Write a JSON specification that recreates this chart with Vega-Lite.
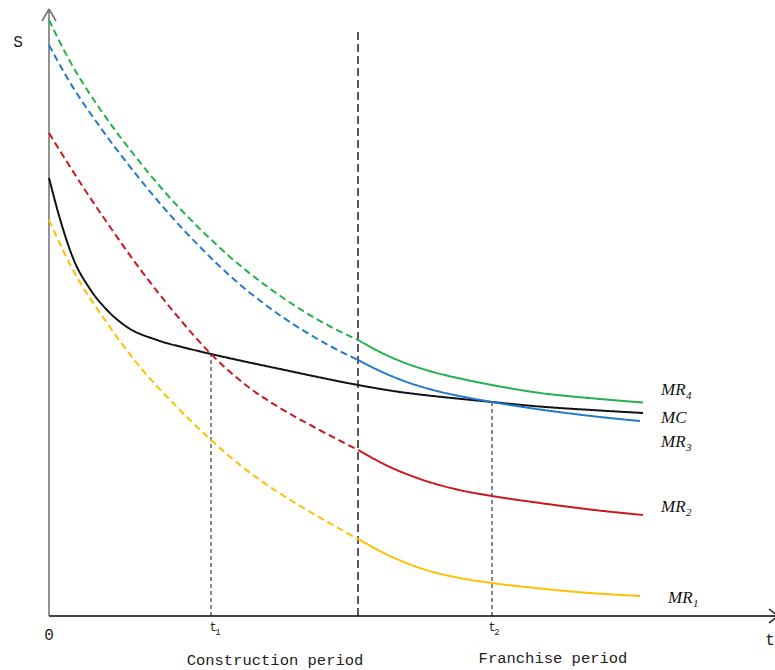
{
  "$schema": "https://vega.github.io/schema/vega-lite/v6.json",
  "width": 775,
  "height": 670,
  "autosize": "none",
  "padding": 0,
  "background": "white",
  "config": {"view": {"stroke": null}},
  "datasets": {
    "curves": [
      {"series": "MC", "phase": "franchise", "t": 0, "S": 438},
      {"series": "MC", "phase": "franchise", "t": 11, "S": 397},
      {"series": "MC", "phase": "franchise", "t": 24, "S": 358},
      {"series": "MC", "phase": "franchise", "t": 41, "S": 327},
      {"series": "MC", "phase": "franchise", "t": 58, "S": 306},
      {"series": "MC", "phase": "franchise", "t": 78, "S": 289},
      {"series": "MC", "phase": "franchise", "t": 108, "S": 276},
      {"series": "MC", "phase": "franchise", "t": 141, "S": 267},
      {"series": "MC", "phase": "franchise", "t": 162, "S": 262},
      {"series": "MC", "phase": "franchise", "t": 198, "S": 254},
      {"series": "MC", "phase": "franchise", "t": 231, "S": 247},
      {"series": "MC", "phase": "franchise", "t": 264, "S": 240},
      {"series": "MC", "phase": "franchise", "t": 309, "S": 231},
      {"series": "MC", "phase": "franchise", "t": 351, "S": 224},
      {"series": "MC", "phase": "franchise", "t": 384, "S": 220},
      {"series": "MC", "phase": "franchise", "t": 418, "S": 216.5},
      {"series": "MC", "phase": "franchise", "t": 443, "S": 214},
      {"series": "MC", "phase": "franchise", "t": 484, "S": 210},
      {"series": "MC", "phase": "franchise", "t": 551, "S": 205.5},
      {"series": "MC", "phase": "franchise", "t": 594, "S": 203},

      {"series": "MR1", "phase": "construction", "t": 0, "S": 396},
      {"series": "MR1", "phase": "construction", "t": 24, "S": 346},
      {"series": "MR1", "phase": "construction", "t": 58, "S": 293},
      {"series": "MR1", "phase": "construction", "t": 91, "S": 249},
      {"series": "MR1", "phase": "construction", "t": 124, "S": 213},
      {"series": "MR1", "phase": "construction", "t": 162, "S": 176},
      {"series": "MR1", "phase": "construction", "t": 191, "S": 151},
      {"series": "MR1", "phase": "construction", "t": 224, "S": 127},
      {"series": "MR1", "phase": "construction", "t": 258, "S": 106},
      {"series": "MR1", "phase": "construction", "t": 291, "S": 87},
      {"series": "MR1", "phase": "construction", "t": 309, "S": 77},
      {"series": "MR1", "phase": "franchise", "t": 309, "S": 77},
      {"series": "MR1", "phase": "franchise", "t": 341, "S": 60},
      {"series": "MR1", "phase": "franchise", "t": 374, "S": 47},
      {"series": "MR1", "phase": "franchise", "t": 408, "S": 38.5},
      {"series": "MR1", "phase": "franchise", "t": 443, "S": 33},
      {"series": "MR1", "phase": "franchise", "t": 491, "S": 27.5},
      {"series": "MR1", "phase": "franchise", "t": 541, "S": 23},
      {"series": "MR1", "phase": "franchise", "t": 591, "S": 20},

      {"series": "MR2", "phase": "construction", "t": 0, "S": 483},
      {"series": "MR2", "phase": "construction", "t": 18, "S": 454},
      {"series": "MR2", "phase": "construction", "t": 36, "S": 426},
      {"series": "MR2", "phase": "construction", "t": 58, "S": 393.5},
      {"series": "MR2", "phase": "construction", "t": 91, "S": 347},
      {"series": "MR2", "phase": "construction", "t": 124, "S": 305},
      {"series": "MR2", "phase": "construction", "t": 162, "S": 262},
      {"series": "MR2", "phase": "construction", "t": 198, "S": 230},
      {"series": "MR2", "phase": "construction", "t": 231, "S": 208},
      {"series": "MR2", "phase": "construction", "t": 264, "S": 189.5},
      {"series": "MR2", "phase": "construction", "t": 309, "S": 166},
      {"series": "MR2", "phase": "franchise", "t": 309, "S": 166},
      {"series": "MR2", "phase": "franchise", "t": 341, "S": 149},
      {"series": "MR2", "phase": "franchise", "t": 374, "S": 136},
      {"series": "MR2", "phase": "franchise", "t": 408, "S": 126.5},
      {"series": "MR2", "phase": "franchise", "t": 443, "S": 120},
      {"series": "MR2", "phase": "franchise", "t": 491, "S": 113},
      {"series": "MR2", "phase": "franchise", "t": 541, "S": 106.5},
      {"series": "MR2", "phase": "franchise", "t": 594, "S": 101},

      {"series": "MR3", "phase": "construction", "t": 0, "S": 571},
      {"series": "MR3", "phase": "construction", "t": 18, "S": 538.5},
      {"series": "MR3", "phase": "construction", "t": 51, "S": 489},
      {"series": "MR3", "phase": "construction", "t": 84, "S": 445.5},
      {"series": "MR3", "phase": "construction", "t": 118, "S": 404.5},
      {"series": "MR3", "phase": "construction", "t": 151, "S": 369},
      {"series": "MR3", "phase": "construction", "t": 184, "S": 337.5},
      {"series": "MR3", "phase": "construction", "t": 218, "S": 310},
      {"series": "MR3", "phase": "construction", "t": 251, "S": 287.5},
      {"series": "MR3", "phase": "construction", "t": 281, "S": 270},
      {"series": "MR3", "phase": "construction", "t": 309, "S": 256},
      {"series": "MR3", "phase": "franchise", "t": 309, "S": 256},
      {"series": "MR3", "phase": "franchise", "t": 331, "S": 245},
      {"series": "MR3", "phase": "franchise", "t": 351, "S": 236.5},
      {"series": "MR3", "phase": "franchise", "t": 384, "S": 226},
      {"series": "MR3", "phase": "franchise", "t": 418, "S": 218.5},
      {"series": "MR3", "phase": "franchise", "t": 443, "S": 214},
      {"series": "MR3", "phase": "franchise", "t": 484, "S": 207.5},
      {"series": "MR3", "phase": "franchise", "t": 551, "S": 199},
      {"series": "MR3", "phase": "franchise", "t": 591, "S": 195},

      {"series": "MR4", "phase": "construction", "t": 0, "S": 596},
      {"series": "MR4", "phase": "construction", "t": 18, "S": 560},
      {"series": "MR4", "phase": "construction", "t": 51, "S": 507},
      {"series": "MR4", "phase": "construction", "t": 84, "S": 462.5},
      {"series": "MR4", "phase": "construction", "t": 118, "S": 421.5},
      {"series": "MR4", "phase": "construction", "t": 151, "S": 387},
      {"series": "MR4", "phase": "construction", "t": 184, "S": 356.5},
      {"series": "MR4", "phase": "construction", "t": 218, "S": 329.5},
      {"series": "MR4", "phase": "construction", "t": 251, "S": 307},
      {"series": "MR4", "phase": "construction", "t": 284, "S": 288},
      {"series": "MR4", "phase": "construction", "t": 309, "S": 276},
      {"series": "MR4", "phase": "franchise", "t": 309, "S": 276},
      {"series": "MR4", "phase": "franchise", "t": 331, "S": 264},
      {"series": "MR4", "phase": "franchise", "t": 351, "S": 255},
      {"series": "MR4", "phase": "franchise", "t": 384, "S": 244},
      {"series": "MR4", "phase": "franchise", "t": 418, "S": 236},
      {"series": "MR4", "phase": "franchise", "t": 451, "S": 229.5},
      {"series": "MR4", "phase": "franchise", "t": 484, "S": 224},
      {"series": "MR4", "phase": "franchise", "t": 551, "S": 217},
      {"series": "MR4", "phase": "franchise", "t": 594, "S": 213.5}
    ],
    "labels": [
      {"main": "MR", "sub": "4", "t": 612, "S": 221},
      {"main": "MC", "sub": "", "t": 612, "S": 193},
      {"main": "MR", "sub": "3", "t": 612, "S": 169},
      {"main": "MR", "sub": "2", "t": 612, "S": 104},
      {"main": "MR", "sub": "1", "t": 619, "S": 13}
    ]
  },
  "encoding": {
    "x": {"field": "t", "type": "quantitative", "scale": {"domain": [-49, 726], "nice": false, "zero": false}, "axis": null},
    "y": {"field": "S", "type": "quantitative", "scale": {"domain": [-54, 616], "nice": false, "zero": false}, "axis": null}
  },
  "layer": [
    {
      "data": {"values": [
        {"t": 0, "S": 0, "t2": 0, "S2": 607},
        {"t": 0, "S": 607, "t2": -7, "S2": 595},
        {"t": 0, "S": 607, "t2": 7, "S2": 595}
      ]},
      "mark": {"type": "rule", "color": "#6e6e6e", "strokeWidth": 1.5},
      "encoding": {"x2": {"field": "t2"}, "y2": {"field": "S2"}}
    },
    {
      "data": {"values": [
        {"t": 0, "S": 0, "t2": 729, "S2": 0},
        {"t": 729, "S": 0, "t2": 720, "S2": 7},
        {"t": 729, "S": 0, "t2": 720, "S2": -7}
      ]},
      "mark": {"type": "rule", "color": "#444444", "strokeWidth": 1.8},
      "encoding": {"x2": {"field": "t2"}, "y2": {"field": "S2"}}
    },
    {
      "data": {"values": [{"t": 309, "S": 0, "S2": 588}]},
      "mark": {"type": "rule", "color": "#111111", "strokeWidth": 1.4, "strokeDash": [8, 4]},
      "encoding": {"y2": {"field": "S2"}}
    },
    {
      "data": {"values": [{"t": 162, "S": 0, "S2": 262}, {"t": 443, "S": 0, "S2": 214}]},
      "mark": {"type": "rule", "color": "#111111", "strokeWidth": 1, "strokeDash": [4, 3]},
      "encoding": {"y2": {"field": "S2"}}
    },
    {
      "data": {"name": "curves"},
      "mark": {"type": "line", "strokeWidth": 2, "interpolate": "monotone"},
      "encoding": {
        "color": {"field": "series", "type": "nominal", "legend": null,
          "scale": {"domain": ["MC", "MR1", "MR2", "MR3", "MR4"], "range": ["#111111", "#ffc000", "#c8191f", "#2479cc", "#22b14c"]}},
        "strokeDash": {"field": "phase", "type": "nominal", "legend": null,
          "scale": {"domain": ["construction", "franchise"], "range": [[7, 4], [1, 0]]}},
        "order": {"field": "t", "type": "quantitative"}
      }
    },
    {
      "data": {"name": "labels"},
      "mark": {"type": "text", "align": "left", "baseline": "alphabetic", "font": "Liberation Serif", "fontStyle": "italic", "fontSize": 17, "color": "#111111"},
      "encoding": {"text": {"field": "main"}}
    },
    {
      "data": {"name": "labels"},
      "mark": {"type": "text", "align": "left", "baseline": "alphabetic", "font": "Liberation Serif", "fontStyle": "italic", "fontSize": 11, "dx": 25, "dy": 4, "color": "#111111"},
      "encoding": {"text": {"field": "sub"}}
    },
    {
      "data": {"values": [
        {"txt": "S", "t": -31, "S": 574},
        {"txt": "0", "t": 0, "S": -19},
        {"txt": "t", "t": 721, "S": -24}
      ]},
      "mark": {"type": "text", "align": "center", "baseline": "middle", "font": "Liberation Mono", "fontSize": 16, "color": "#222222"},
      "encoding": {"text": {"field": "txt"}}
    },
    {
      "data": {"values": [
        {"txt": "t", "sub": "1", "t": 164, "S": -11},
        {"txt": "t", "sub": "2", "t": 443, "S": -11}
      ]},
      "layer": [
        {
          "mark": {"type": "text", "align": "center", "baseline": "middle", "font": "Liberation Mono", "fontSize": 12, "color": "#222222"},
          "encoding": {"text": {"field": "txt"}}
        },
        {
          "mark": {"type": "text", "align": "center", "baseline": "middle", "font": "Liberation Mono", "fontSize": 9, "dx": 5, "dy": 5, "color": "#222222"},
          "encoding": {"text": {"field": "sub"}}
        }
      ]
    },
    {
      "data": {"values": [
        {"txt": "Construction period", "t": 226, "S": -44},
        {"txt": "Franchise period", "t": 504, "S": -42}
      ]},
      "mark": {"type": "text", "align": "center", "baseline": "middle", "font": "Liberation Mono", "fontSize": 15.5, "color": "#222222"},
      "encoding": {"text": {"field": "txt"}}
    }
  ]
}
